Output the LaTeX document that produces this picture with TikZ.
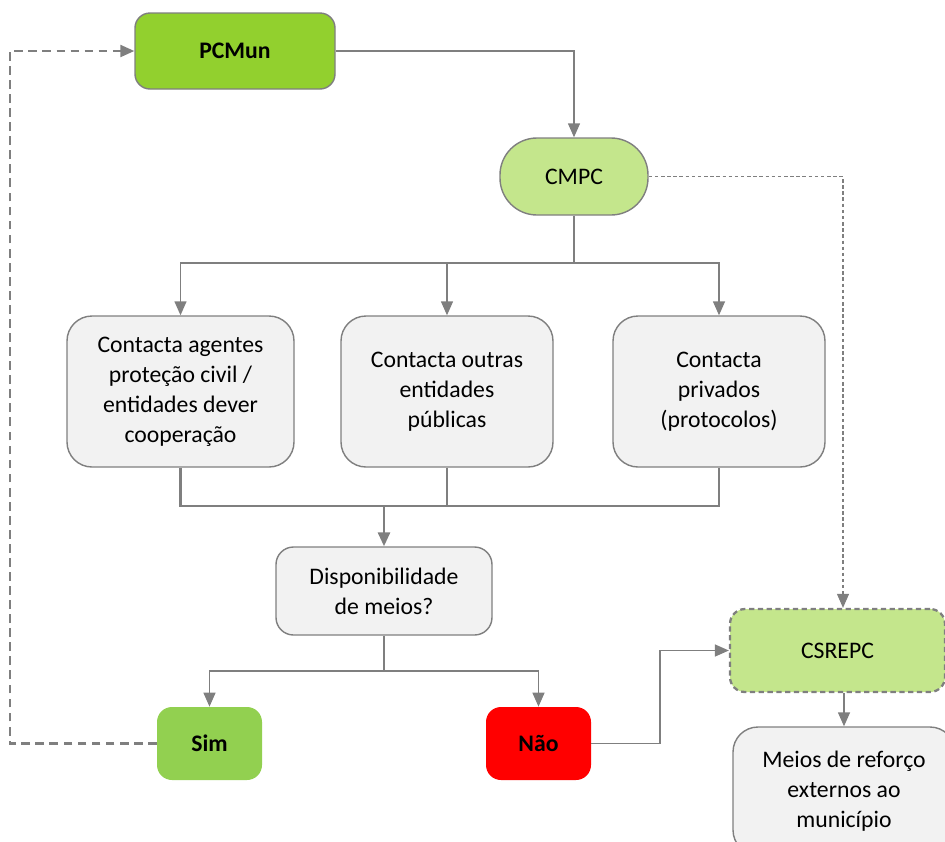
\documentclass[tikz,border=0pt]{standalone}
\usepackage{fontspec}
\setmainfont{Carlito}
\usetikzlibrary{arrows.meta, positioning}

\definecolor{linegray}{RGB}{127,127,127}
\definecolor{boxfill}{RGB}{242,242,242}
\definecolor{strong}{RGB}{146,208,46}
\definecolor{simgreen}{RGB}{146,208,80}
\definecolor{soft}{RGB}{196,230,140}
\definecolor{naored}{RGB}{255,0,0}

\tikzset{
  every node/.style={font=\fontsize{13.5}{17}\selectfont, align=center},
  box/.style={draw=linegray, line width=0.8pt, fill=boxfill, rounded corners=0.5cm},
  greenbox/.style={box, fill=strong, rounded corners=0.3cm, font=\fontsize{13.5}{17}\selectfont\bfseries},
  answer/.style={rounded corners=0.3cm, minimum width=2.1cm, minimum height=1.46cm, font=\fontsize{13.5}{17}\selectfont\bfseries},
  link/.style={draw=linegray, line width=0.8pt},
  arr/.style={link, -{Triangle[length=0.28cm, width=0.24cm]}},
  dasharr/.style={arr, dashed, dash pattern=on 5pt off 3pt, line width=1.3pt},
  thinarr/.style={arr, dash pattern=on 2pt off 1.5pt, line width=0.6pt}
}

\begin{document}
\begin{tikzpicture}

  \clip (0,0) rectangle (18.9,-16.82);
  \useasboundingbox (0,0) rectangle (18.9,-16.82);

  % the top of the chain
  \node[greenbox, minimum width=4cm, minimum height=1.52cm] (pcmun) at (4.7,-1.02) {PCMun};
  \node[box, fill=soft, rounded corners=0.74cm, minimum width=2.96cm, minimum height=1.54cm] (cmpc) at (11.48,-3.53) {CMPC};

  % the three contacts
  \node[box, minimum width=4.54cm, minimum height=3.02cm] (agentes) at (3.61,-7.83)
    {Contacta agentes\\proteção civil /\\entidades dever\\cooperação};
  \node[box, minimum width=4.24cm, minimum height=3.02cm] (publicas) at (8.94,-7.83)
    {Contacta outras\\entidades\\públicas};
  \node[box, minimum width=4.24cm, minimum height=3.02cm] (privados) at (14.38,-7.83)
    {Contacta\\privados\\(protocolos)};

  \node[box, rounded corners=0.35cm, minimum width=4.32cm, minimum height=1.76cm] (meios) at (7.68,-11.82)
    {Disponibilidade\\de meios?};

  % the answers
  \node[answer, fill=simgreen] (sim) at (4.19,-14.87) {Sim};
  \node[answer, fill=naored] (nao) at (10.77,-14.87) {Não};

  \node[box, fill=soft, dashed, dash pattern=on 3pt off 2pt, line width=1.3pt, rounded corners=0.3cm,
        minimum width=4.3cm, minimum height=1.66cm] (csrepc) at (16.75,-13.01) {CSREPC};
  \node[box, rounded corners=0.5cm, minimum width=4.44cm, minimum height=2.56cm] (reforco) at (16.88,-15.82)
    {Meios de reforço\\externos ao\\município};

  % helper points
  \coordinate (split) at (11.48,-5.26);
  \coordinate (merge) at (7.68,-10.12);
  \coordinate (fork) at (7.68,-13.42);
  \coordinate (loop) at (0.2,-1.02);
  \coordinate (bend) at (13.2,-14.87);
  \coordinate (drop) at (16.86,-3.53);

  % connectors
  \draw[arr] (pcmun) -| (cmpc);
  \draw[link] (cmpc) -- (split);
  \draw[arr] (split) -| (agentes);
  \draw[arr] (split) -| (privados);
  \draw[arr] (split -| publicas) -- (publicas);

  \draw[link, line width=1.6pt] (agentes.south) -- (agentes.south |- merge) -- (privados.south |- merge) -- (privados.south);
  \draw[link] (publicas.south) -- (publicas.south |- merge);
  \draw[arr, line width=1.6pt] (merge) -- (meios);

  \draw[link] (meios) -- (fork);
  \draw[arr] (fork) -| (sim);
  \draw[arr] (fork) -| (nao);

  \draw[dasharr] (sim) -| (loop) -- (pcmun);
  \draw[arr] (nao) -- (bend) |- (csrepc);
  \draw[thinarr] (cmpc) -- (drop) -- (drop |- csrepc.north);
  \draw[arr] (reforco.north |- csrepc.south) -- (reforco);

\end{tikzpicture}
\end{document}
